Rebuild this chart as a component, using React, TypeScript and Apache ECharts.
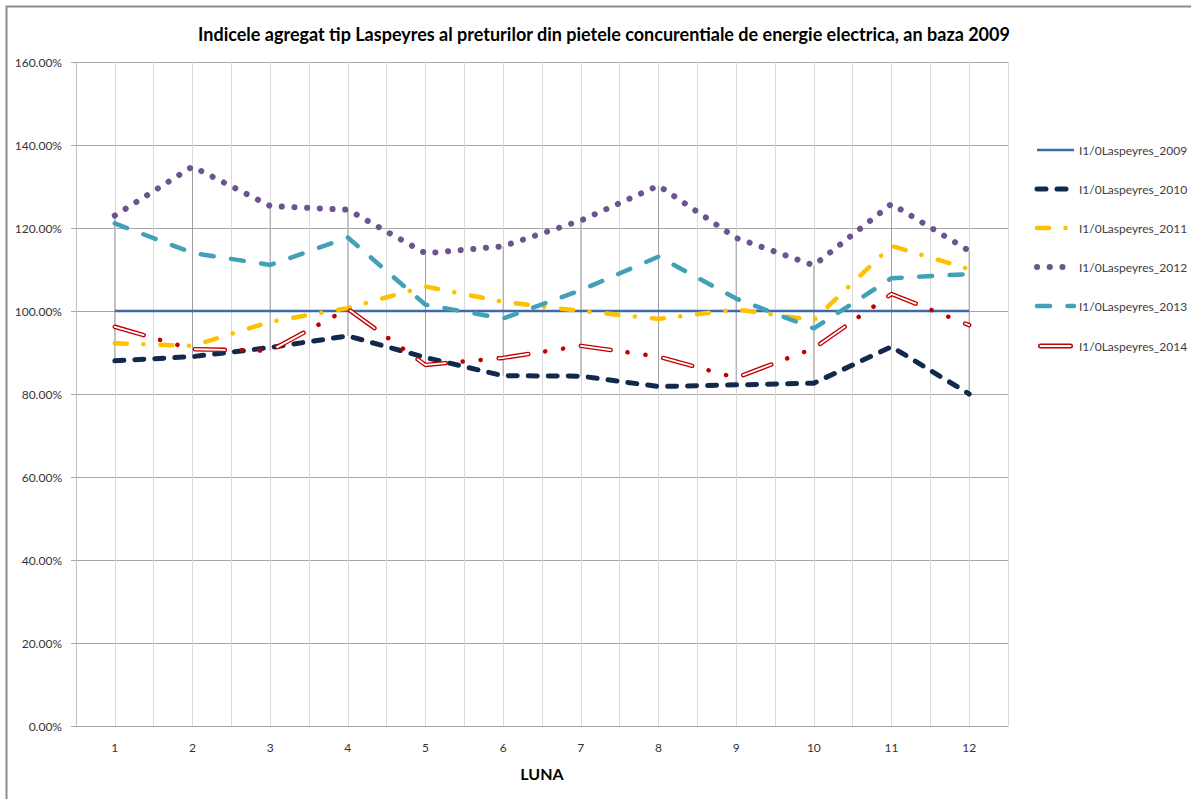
import React, { useEffect, useRef } from "react";
import * as echarts from "echarts";

const TITLE = "Indicele agregat tip Laspeyres al preturilor din pietele concurentiale de energie electrica, an baza 2009";
const X_NAME = "LUNA";
const months = ["1", "2", "3", "4", "5", "6", "7", "8", "9", "10", "11", "12"];
const yTicks = [0, 20, 40, 60, 80, 100, 120, 140, 160];

const names = [
  "I1/0Laspeyres_2009",
  "I1/0Laspeyres_2010",
  "I1/0Laspeyres_2011",
  "I1/0Laspeyres_2012",
  "I1/0Laspeyres_2013",
  "I1/0Laspeyres_2014",
];

const s2009 = [100, 100, 100, 100, 100, 100, 100, 100, 100, 100, 100, 100];
const s2010 = [88.0, 89.0, 91.2, 94.0, 88.8, 84.4, 84.3, 81.8, 82.2, 82.6, 91.4, 80.0];
const s2011 = [92.2, 91.6, 97.4, 100.7, 105.9, 102.2, 100.0, 98.1, 100.4, 97.8, 115.7, 110.1];
const s2012 = [123.0, 134.8, 125.3, 124.4, 113.9, 115.6, 121.8, 130.2, 117.6, 111.0, 125.8, 114.5];
const s2013 = [121.1, 114.0, 111.1, 117.7, 101.5, 98.2, 105.0, 113.1, 103.0, 95.8, 107.9, 108.9];
const s2014 = [96.2, 90.8, 90.4, 100.5, 87.0, 88.7, 91.6, 89.0, 83.9, 91.0, 104.1, 96.6];

const FONT = "Lato";

export default function App() {
  const ref = useRef<HTMLDivElement>(null);

  useEffect(() => {
    if (!ref.current) return;
    const chart = echarts.init(ref.current, null, { renderer: "svg" });
    const all = [s2009, s2010, s2011, s2012, s2013, s2014];
    const hiLo = months.map((_, i) => {
      const vals = all.map((s) => s[i]);
      return [i, Math.max(...vals), Math.min(...vals)];
    });

    const iconRing =
      "path://M0 0 L0.001 0 L0 0.001 Z M37 14 L36.999 14 L37 13.999 Z " +
      "M3.5 4.5 L33.5 4.5 A2.5 2.5 0 0 1 33.5 9.5 L3.5 9.5 A2.5 2.5 0 0 1 3.5 4.5 Z " +
      "M3.5 6 A1 1 0 0 0 3.5 8 L33.5 8 A1 1 0 0 0 33.5 6 Z";

    const option: any = {
      animation: false,
      backgroundColor: "#ffffff",
      textStyle: { fontFamily: FONT },
      title: {
        text: TITLE,
        left: 599,
        textAlign: "center",
        top: 20,
        textStyle: { fontFamily: FONT, fontSize: 18, fontWeight: "bold", color: "#000" },
      },
      graphic: [
        {
          type: "rect",
          shape: { x: 6.5, y: 6.5, width: 1300, height: 900 },
          style: { fill: "none", stroke: "#8c8c8c", lineWidth: 2 },
          silent: true,
          z: 100,
        },
      ],
      legend: {
        orient: "vertical",
        left: 1029,
        top: 139,
        itemWidth: 37,
        itemHeight: 14,
        itemGap: 27,
        itemStyle: { opacity: 0 },
        lineStyle: { width: "inherit" },
        textStyle: { fontFamily: FONT, fontSize: 12, color: "#404040" },
        data: [
          names[0],
          names[1],
          names[2],
          names[3],
          names[4],
          {
            name: names[5],
            icon: iconRing,
            itemStyle: { borderWidth: 0, color: "#c00000", opacity: 1 },
          },
        ],
      },
      grid: { left: 76, right: 183, top: 62, bottom: 73, containLabel: false },
      xAxis: [
        {
          type: "category",
          data: months,
          boundaryGap: true,
          name: X_NAME,
          nameLocation: "middle",
          nameGap: 39,
          nameTextStyle: { fontFamily: FONT, fontSize: 16, fontWeight: "bold", color: "#000" },
          axisLine: { lineStyle: { color: "#a6a6a6", width: 1 } },
          axisTick: { show: false },
          axisLabel: { fontFamily: FONT, fontSize: 12, color: "#333", margin: 15 },
          splitLine: { show: false },
        },
        {
          type: "value",
          position: "top",
          min: 0.5,
          max: 12.5,
          interval: 0.5,
          axisLine: { show: false },
          axisTick: { show: false },
          axisLabel: { show: false },
          splitLine: { show: true, lineStyle: { color: "#d9d9d9", width: 1 } },
        },
      ],
      yAxis: {
        type: "value",
        min: yTicks[0],
        max: yTicks[yTicks.length - 1],
        interval: 20,
        axisLine: { show: true, lineStyle: { color: "#bfbfbf" } },
        axisTick: { show: true, length: 5, lineStyle: { color: "#a6a6a6" } },
        axisLabel: {
          fontFamily: FONT,
          fontSize: 12,
          color: "#333",
          margin: 14,
          formatter: (v: number) => v.toFixed(2) + "%",
        },
        splitLine: { lineStyle: { color: "#a6a6a6", width: 1 } },
      },
      series: [
        {
          name: "hilo",
          type: "custom",
          xAxisIndex: 0,
          silent: true,
          z: 1,
          data: hiLo,
          renderItem: (params: any, api: any) => {
            const p1 = api.coord([api.value(0), api.value(1)]);
            const p2 = api.coord([api.value(0), api.value(2)]);
            return {
              type: "line",
              shape: { x1: p1[0], y1: p1[1], x2: p2[0], y2: p2[1] },
              style: { stroke: "#a0a0a0", lineWidth: 1 },
            };
          },
        },
        {
          name: names[0],
          type: "line",
          data: s2009,
          symbol: "none",
          z: 3,
          color: "#3e6aaa",
          lineStyle: { color: "#3e6aaa", width: 2.5 },
        },
        {
          name: names[1],
          type: "line",
          data: s2010,
          symbol: "none",
          z: 3,
          color: "#13294b",
          lineStyle: { color: "#13294b", width: 5, type: [9, 11], cap: "round", join: "round" },
        },
        {
          name: names[2],
          type: "line",
          data: s2011,
          symbol: "none",
          z: 3,
          color: "#ffc000",
          lineStyle: { color: "#ffc000", width: 4.5, type: [12, 16.5, 0.1, 17], cap: "round", join: "round" },
        },
        {
          name: names[3],
          type: "line",
          data: s2012,
          symbol: "none",
          z: 3,
          color: "#6d5392",
          lineStyle: { color: "#6d5392", width: 6, type: [0.1, 12.6], cap: "round", join: "round" },
        },
        {
          name: names[4],
          type: "line",
          data: s2013,
          symbol: "none",
          z: 3,
          color: "#42a0b7",
          lineStyle: { color: "#42a0b7", width: 4.5, type: [13, 17.5], cap: "round", join: "round" },
        },
        {
          name: names[5],
          type: "line",
          data: s2014,
          symbol: "none",
          z: 4,
          color: "#c00000",
          lineStyle: { color: "#c00000", width: 4.5, type: [30, 17, 0.1, 18, 0.1, 18], cap: "round", join: "round" },
        },
        {
          name: "core_2014",
          type: "line",
          data: s2014,
          symbol: "none",
          z: 5,
          silent: true,
          color: "#ffffff",
          lineStyle: { color: "#ffffff", width: 1.8, type: [30, 53.2], cap: "round", join: "round" },
        },
      ],
    };

    chart.setOption(option);
    return () => chart.dispose();
  }, []);

  return (
    <div
      ref={ref}
      style={{ position: "fixed", left: 0, top: 0, width: 1191, height: 799, background: "#fff" }}
    />
  );
}
